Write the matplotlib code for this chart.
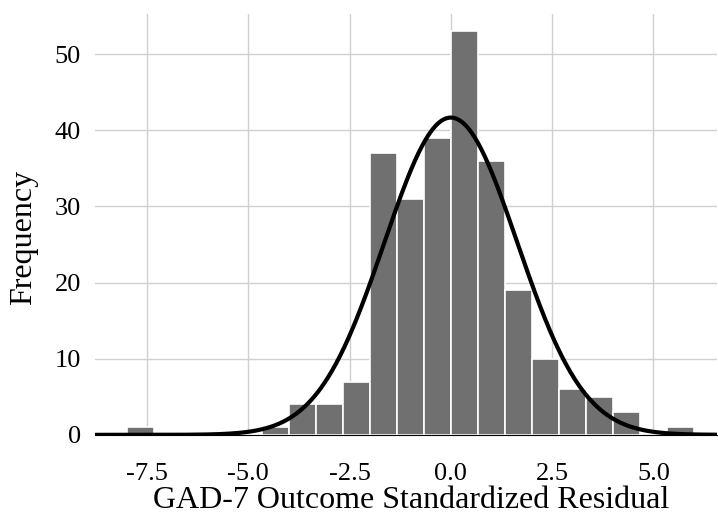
import numpy as np
import matplotlib.pyplot as plt

# histogram of standardized residuals (bin width 2/3, from -8 to 6)
bin_w = 2 / 3
bin_start = -8.0
counts = [1, 0, 0, 0, 0, 1, 4, 4, 7, 37, 31, 39, 53, 36, 19, 10, 6, 5, 3, 0, 1]

# normal fit overlay
mu = 0.0
sigma = 1.64
n_total = sum(counts)

plt.rcParams['font.family'] = ['Liberation Serif', 'DejaVu Serif']
plt.rcParams['axes.unicode_minus'] = False

fig = plt.figure(figsize=(7.18, 5.14), dpi=100)
ax = fig.add_axes([0.132, 0.154, 0.866, 0.819])

lefts = bin_start + bin_w * np.arange(len(counts))
ax.bar(lefts, counts, width=bin_w, align='edge', color='#707070',
       edgecolor='white', linewidth=1.2, zorder=2)

xs = np.linspace(-8.8, 6.6, 600)
ys = n_total * bin_w / (sigma * np.sqrt(2 * np.pi)) * np.exp(-0.5 * ((xs - mu) / sigma) ** 2)
ax.plot(xs, ys, color='black', lw=3, zorder=3)

ax.set_xlim(-8.79, 6.56)
ax.set_ylim(0, 55.3)
ax.set_xticks([-7.5, -5.0, -2.5, 0.0, 2.5, 5.0])
ax.set_yticks([0, 10, 20, 30, 40, 50])
ax.grid(True, color='#d0d0d0', lw=1, zorder=0)
ax.set_axisbelow(True)

for s in ['top', 'right', 'left']:
    ax.spines[s].set_visible(False)
ax.spines['bottom'].set_color('black')
ax.tick_params(length=0, labelsize=19)
ax.tick_params(axis='x', pad=20)
ax.tick_params(axis='y', pad=10)

ax.set_xlabel('GAD-7 Outcome Standardized Residual', fontsize=23, labelpad=1, x=0.508)
ax.set_ylabel('Frequency', fontsize=23, labelpad=12, y=0.47)

fig.savefig('out.png', dpi=100)
